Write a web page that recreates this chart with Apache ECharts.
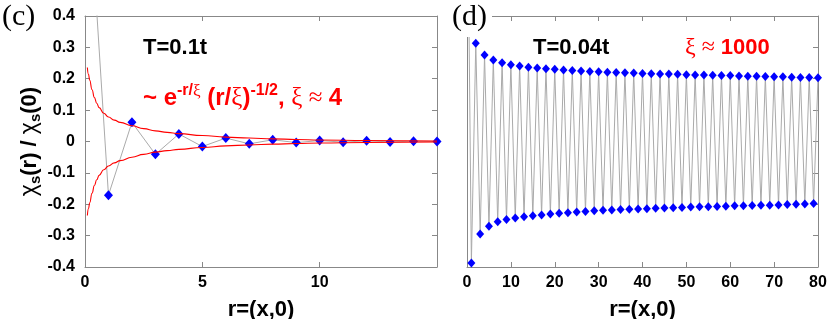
<!DOCTYPE html>
<html><head><meta charset="utf-8">
<script src="https://cdn.jsdelivr.net/npm/echarts@6/dist/echarts.min.js"></script>
<style>html,body{margin:0;padding:0;background:#fff}#c{width:830px;height:319px}</style>
</head><body><div id="c"></div>
<script>
// ---- Panel (c): T = 0.1t ----
const leftR = [0,1,2,3,4,5,6,7,8,9,10,11,12,13,14,15];
const leftVals = [1, -0.171, 0.061, -0.041, 0.024, -0.016, 0.011, -0.0075, 0.0055, -0.0035, 0.003, -0.002, 0.002, -0.0012, 0.001, 0.0];
// envelope curve
const fitR = [0.1,0.15,0.2,0.3,0.4,0.5,0.6,0.8,1.0,1.25,1.5,2,2.5,3,3.5,4,5,6,7,8,9,10,12,15];
const fitUpper = [0.236,0.214,0.195,0.165,0.140,0.122,0.108,0.090,0.078,0.068,0.061,0.050,0.041,0.034,0.029,0.025,0.019,0.014,0.011,0.0085,0.0065,0.005,0.003,0.0015];
const fitLower = [-0.236,-0.214,-0.195,-0.165,-0.140,-0.122,-0.108,-0.090,-0.078,-0.068,-0.061,-0.050,-0.041,-0.034,-0.029,-0.025,-0.019,-0.014,-0.011,-0.0085,-0.0065,-0.005,-0.003,-0.0015];

// ---- Panel (d): T = 0.04t ----
const rightR0Value = 1;
// values at odd r = 1,3,...,79
const rightOdd = [-0.387,-0.295,-0.270,-0.256,-0.249,-0.244,-0.240,-0.237,-0.234,-0.231,
  -0.229,-0.227,-0.225,-0.223,-0.221,-0.219,-0.218,-0.217,-0.216,-0.215,
  -0.214,-0.213,-0.212,-0.211,-0.210,-0.209,-0.208,-0.208,-0.207,-0.206,
  -0.205,-0.205,-0.204,-0.203,-0.203,-0.202,-0.201,-0.200,-0.199,-0.198];
// values at even r = 2,4,...,80
const rightEven = [0.313,0.276,0.260,0.251,0.245,0.241,0.237,0.234,0.232,0.230,
  0.228,0.226,0.225,0.223,0.222,0.221,0.220,0.219,0.218,0.217,
  0.216,0.215,0.215,0.214,0.213,0.212,0.212,0.211,0.210,0.210,
  0.209,0.208,0.208,0.207,0.206,0.206,0.205,0.204,0.204,0.203];

const leftXTicks = [0,5,10];
const rightXTicks = [0,10,20,30,40,50,60,70,80];

// build data from arrays
const leftData = leftR.map((r,i)=>[r, leftVals[i]]);
const upperData = fitR.map((r,i)=>[r, fitUpper[i]]);
const lowerData = fitR.map((r,i)=>[r, fitLower[i]]);
const rightData = [[0, rightR0Value]];
for (let k = 0; k < rightOdd.length; k++) {
  rightData.push([2*k+1, rightOdd[k]]);
  rightData.push([2*k+2, rightEven[k]]);
}

const FF = '"Liberation Sans", Arial, Helvetica, sans-serif';
const SERIF = '"Liberation Serif", "Times New Roman", serif';
const AX = '#888';
function xAx(grid, min, max, interval, pos, ticks, withLabel) {
  const a = {
    gridIndex: grid, type: 'value', min: min, max: max, interval: interval, position: pos,
    axisLine: {show: true, onZero: false, lineStyle: {color: AX, width: 1}},
    axisTick: {show: true, inside: true, length: 5, lineStyle: {color: AX, width: 1}},
    splitLine: {show: false},
    axisLabel: {show: withLabel, margin: 8, color: '#000', fontSize: 16, fontWeight: 'bold', fontFamily: FF,
      formatter: v => ticks.indexOf(v) >= 0 ? String(v) : ''}
  };
  if (withLabel) {
    a.name = 'r=(x,0)'; a.nameLocation = 'middle'; a.nameGap = 32;
    a.nameTextStyle = {color: '#000', fontSize: 22, fontWeight: 'bold', fontFamily: FF};
  }
  return a;
}
function yAx(grid, pos, showTicks, withLabel) {
  const a = {
    gridIndex: grid, type: 'value', min: -0.4, max: 0.4, interval: 0.1, position: pos,
    axisLine: {show: true, onZero: false, lineStyle: {color: AX, width: 1}},
    axisTick: {show: showTicks, inside: true, length: 5, lineStyle: {color: AX, width: 1}},
    splitLine: {show: false},
    axisLabel: {show: withLabel, margin: 10, color: '#000', fontSize: 16, fontWeight: 'bold', fontFamily: FF}
  };
  if (withLabel) {
    a.name = '{x|χ}{s|s}{m|(r) / }{x|χ}{s|s}{m|(0)}';
    a.nameLocation = 'middle'; a.nameRotate = 90; a.nameGap = 40;
    a.nameTextStyle = {rich: {
      x: {fontSize: 23, fontFamily: FF, color: '#000', lineHeight: 28},
      m: {fontSize: 22, fontWeight: 'bold', fontFamily: FF, color: '#000', lineHeight: 28},
      s: {fontSize: 15, fontWeight: 'bold', fontFamily: FF, color: '#000', lineHeight: 15, verticalAlign: 'bottom'}
    }};
  }
  return a;
}

const chart = echarts.init(document.getElementById('c'), null, {renderer: 'canvas'});
chart.setOption({
  animation: false,
  backgroundColor: '#fff',
  grid: [
    {left: 85, top: 16, width: 352, height: 251, outerBoundsMode: 'none', containLabel: false},
    {left: 467, top: 16, width: 351, height: 251, outerBoundsMode: 'none', containLabel: false}
  ],
  xAxis: [
    xAx(0, 0, 15, 5, 'bottom', leftXTicks, true),
    xAx(0, 0, 15, 5, 'top', leftXTicks, false),
    xAx(1, 0, 80, 10, 'bottom', rightXTicks, true),
    xAx(1, 0, 80, 10, 'top', rightXTicks, false)
  ],
  yAxis: [
    yAx(0, 'left', true, true),
    yAx(0, 'right', true, false),
    yAx(1, 'left', false, false),
    yAx(1, 'right', true, false)
  ],
  series: [
    {type: 'line', xAxisIndex: 0, yAxisIndex: 0, data: leftData, clip: true,
     symbol: 'diamond', symbolSize: [9, 10], itemStyle: {color: '#0000ff'},
     lineStyle: {color: '#aaaaaa', width: 1}, z: 2},
    {type: 'line', xAxisIndex: 0, yAxisIndex: 0, data: upperData, clip: true, symbol: 'none',
     smooth: 0.5, smoothMonotone: 'x', lineStyle: {color: '#ff0000', width: 1.1}, z: 3},
    {type: 'line', xAxisIndex: 0, yAxisIndex: 0, data: lowerData, clip: true, symbol: 'none',
     smooth: 0.5, smoothMonotone: 'x', lineStyle: {color: '#ff0000', width: 1.1}, z: 3},
    {type: 'line', xAxisIndex: 2, yAxisIndex: 2, data: rightData, clip: true,
     symbol: 'diamond', symbolSize: [8, 9], itemStyle: {color: '#0000ff'},
     lineStyle: {color: '#aaaaaa', width: 1}, z: 2}
  ],
  graphic: [
    {type: 'text', x: 2, y: 17, z: 10, style: {text: '(c)', font: '30px ' + SERIF, fill: '#000', verticalAlign: 'middle'}},
    {type: 'rect', x: 446, y: 0, z: 9, shape: {width: 46, height: 37}, style: {fill: '#fff'}},
    {type: 'text', x: 452, y: 17, z: 10, style: {text: '(d)', font: '30px ' + SERIF, fill: '#000', verticalAlign: 'middle'}},
    {type: 'text', x: 143, y: 48, z: 10, style: {text: 'T=0.1t', font: 'bold 22px ' + FF, fill: '#000', verticalAlign: 'middle'}},
    {type: 'text', x: 533, y: 48, z: 10, style: {text: 'T=0.04t', font: 'bold 22px ' + FF, fill: '#000', verticalAlign: 'middle'}},
    {type: 'text', x: 143, y: 98, z: 10, style: {
      text: '{m|~ e}{sp|-r/}{spx|ξ}{m| (r/}{mx|ξ}{m|)}{sp|-1/2}{m|, }{mx|ξ ≈ }{m|4}',
      verticalAlign: 'middle',
      rich: {
        m: {font: 'bold 24px ' + FF, fill: '#ff0000', lineHeight: 30},
        mx: {font: '25px ' + SERIF, fill: '#ff0000', lineHeight: 30},
        sp: {font: 'bold 16px ' + FF, fill: '#ff0000', lineHeight: 16, verticalAlign: 'top'},
        spx: {font: '17px ' + SERIF, fill: '#ff0000', lineHeight: 16, verticalAlign: 'top'}
      }}},
    {type: 'text', x: 685, y: 48, z: 10, style: {
      text: '{mx|ξ ≈ }{m|1000}', verticalAlign: 'middle',
      rich: {
        m: {font: 'bold 22px ' + FF, fill: '#ff0000', lineHeight: 28},
        mx: {font: '24px ' + SERIF, fill: '#ff0000', lineHeight: 28}
      }}}
  ]
});
</script></body></html>
